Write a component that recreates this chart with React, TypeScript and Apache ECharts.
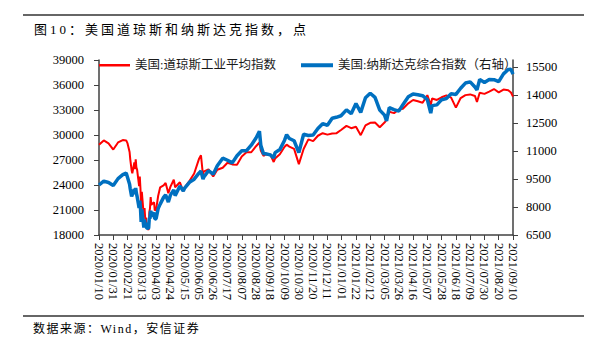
import React, { useEffect, useRef } from "react";
import * as echarts from "echarts";

const dates = [
  "2020/01/10","2020/01/17","2020/01/24","2020/01/31","2020/02/07","2020/02/14","2020/02/19","2020/02/21",
  "2020/02/24","2020/02/25","2020/02/27","2020/02/28","2020/03/02","2020/03/03","2020/03/04","2020/03/05",
  "2020/03/06","2020/03/09","2020/03/10","2020/03/11","2020/03/12","2020/03/13","2020/03/16","2020/03/17",
  "2020/03/18","2020/03/19","2020/03/20","2020/03/23","2020/03/24","2020/03/25","2020/03/26","2020/03/27",
  "2020/03/31","2020/04/01","2020/04/03","2020/04/06","2020/04/09","2020/04/14","2020/04/17","2020/04/21",
  "2020/04/24","2020/04/29","2020/05/01","2020/05/08","2020/05/13","2020/05/15","2020/05/22","2020/05/29",
  "2020/06/05","2020/06/08","2020/06/11","2020/06/12","2020/06/19","2020/06/26","2020/07/02","2020/07/10",
  "2020/07/17","2020/07/24","2020/07/31","2020/08/07","2020/08/14","2020/08/21","2020/08/28","2020/09/02",
  "2020/09/04","2020/09/08","2020/09/11","2020/09/18","2020/09/23","2020/09/25","2020/10/02","2020/10/09",
  "2020/10/12","2020/10/16","2020/10/23","2020/10/30","2020/11/06","2020/11/13","2020/11/20","2020/11/27",
  "2020/12/04","2020/12/11","2020/12/18","2020/12/24","2020/12/31","2021/01/08","2021/01/15","2021/01/22",
  "2021/01/29","2021/02/05","2021/02/12","2021/02/19","2021/02/26","2021/03/05","2021/03/08","2021/03/12",
  "2021/03/19","2021/03/26","2021/04/01","2021/04/09","2021/04/16","2021/04/23","2021/04/30","2021/05/07",
  "2021/05/12","2021/05/14","2021/05/21","2021/05/28","2021/06/04","2021/06/11","2021/06/18","2021/06/25",
  "2021/07/02","2021/07/09","2021/07/16","2021/07/19","2021/07/23","2021/07/30","2021/08/06","2021/08/13",
  "2021/08/20","2021/08/27","2021/09/03","2021/09/07","2021/09/10"
];

const dowValues = [
  28824,29348,28990,28256,29103,29398,29348,28992,
  27961,27081,25766,25409,26703,25917,27091,26121,
  25865,23851,25018,23553,21200,23186,20189,21237,
  19899,20087,19174,18592,20704,21200,22552,21637,
  21917,20943,21053,22680,23719,23949,24242,23018,
  23775,24634,23724,24331,23248,23685,24465,25383,
  27111,27572,25128,25606,25871,25016,25827,26075,
  26672,26470,26428,27433,27931,27930,28654,29100,
  28133,27501,27666,27657,26763,27174,27683,28587,
  28838,28606,28336,26502,28323,29480,29263,29910,
  30218,30046,30179,30200,30606,31098,30814,30997,
  29983,31148,31458,31494,30932,31496,31802,32779,
  32628,33073,33153,33801,34200,34043,33875,34778,
  33587,34382,34208,34529,34756,34480,33290,34434,
  34786,34870,34688,33962,35062,34935,35209,35515,
  35120,35456,35369,35101,34608
];

const nasdaqValues = [
  9179,9389,9315,9151,9520,9731,9817,9577,
  9221,8966,8566,8567,8952,8684,9019,8738,
  8576,7950,8344,7952,7201,7875,6905,7335,
  6990,7151,6880,6861,7418,7385,7798,7502,
  7700,7361,7374,7913,8153,8515,8650,8263,
  8634,8915,8605,9121,8863,9015,9325,9490,
  9814,9924,9493,9589,9946,9757,10208,10617,
  10503,10363,10745,11011,11019,11312,11696,12056,
  11313,10847,10854,10793,10633,10914,11075,11580,
  11876,11672,11548,10912,11895,11830,11855,12206,
  12464,12378,12756,12805,12888,13202,12998,13543,
  13071,13856,14095,13874,13192,12920,12609,13320,
  13215,13139,13480,13900,14052,14016,13962,13752,
  13031,13430,13471,13749,13814,14069,14030,14360,
  14639,14701,14428,14275,14837,14673,14835,14823,
  14714,15130,15363,15374,15115
];

const seriesNames = ["美国:道琼斯工业平均指数", "美国:纳斯达克综合指数（右轴）"];
const startDate = "2020/01/10";
const endDate = "2021/09/10";
const xTickDays = 21;
const leftMin = 18000;
const leftMax = 39000;
const leftInterval = 3000;
const rightMin = 6500;
const rightMax = 15875;
const rightTicks = [6500, 8000, 9500, 11000, 12500, 14000, 15500];
const titleText = "图10：美国道琼斯和纳斯达克指数，点";
const sourceText = "数据来源：Wind，安信证券";

const DAY = 86400000;
function toUTC(s: string) {
  const [y, m, d] = s.split("/").map(Number);
  return Date.UTC(y, m - 1, d);
}
const BASE = toUTC(startDate);
function dayIndex(s: string) {
  return Math.round((toUTC(s) - BASE) / DAY);
}
function pad(n: number) {
  return n < 10 ? "0" + n : "" + n;
}
function fmtDay(i: number) {
  const t = new Date(BASE + i * DAY);
  return `${t.getUTCFullYear()}/${pad(t.getUTCMonth() + 1)}/${pad(t.getUTCDate())}`;
}

const LATIN = "'Liberation Serif', 'Times New Roman', serif";
const CJK = "'Liberation Serif', 'Noto Sans CJK SC', sans-serif";
const AXIS_COLOR = "#404040";

export default function App() {
  const ref = useRef<HTMLDivElement>(null);
  useEffect(() => {
    if (!ref.current) return;
    const chart = echarts.init(ref.current, undefined, { renderer: "svg" });
    const dowData = dates.map((d, i) => [dayIndex(d), dowValues[i]]);
    const nasData = dates.map((d, i) => [dayIndex(d), nasdaqValues[i]]);
    const legendText = { fontSize: 12.5, color: "#1a1a1a", fontFamily: CJK };
    const plain = (v: number) => String(v);
    chart.setOption({
      animation: false,
      backgroundColor: "#fff",
      grid: { left: 99, right: 82, top: 60, bottom: 116, containLabel: false },
      legend: [
        {
          left: 94, top: 54, data: [seriesNames[0]], icon: "rect",
          itemWidth: 31, itemHeight: 2.5, textStyle: legendText, selectedMode: false,
        },
        {
          left: 296, top: 54, data: [seriesNames[1]], icon: "rect",
          itemWidth: 32, itemHeight: 4, textStyle: legendText, selectedMode: false,
        },
      ],
      xAxis: {
        type: "value",
        min: 0,
        max: dayIndex(endDate),
        interval: xTickDays,
        splitLine: { show: false },
        axisLine: { show: true, onZero: false, lineStyle: { color: AXIS_COLOR, width: 1.5 } },
        axisTick: { show: true, length: 5, lineStyle: { color: AXIS_COLOR, width: 1 } },
        axisLabel: {
          rotate: -90, margin: 8, color: "#000", fontSize: 12.5, fontFamily: LATIN,
          formatter: (v: number) => fmtDay(v),
        },
      },
      yAxis: [
        {
          type: "value", min: leftMin, max: leftMax, interval: leftInterval,
          splitLine: { show: false },
          axisLine: { show: true, lineStyle: { color: AXIS_COLOR, width: 1.5 } },
          axisTick: { show: true, length: 5, lineStyle: { color: AXIS_COLOR, width: 1 } },
          axisLabel: { margin: 15, color: "#000", fontSize: 12.5, fontFamily: LATIN, formatter: plain },
        },
        {
          type: "value", min: rightMin, max: rightMax, position: "right",
          splitLine: { show: false },
          axisLine: { show: true, lineStyle: { color: AXIS_COLOR, width: 1.5 } },
          axisTick: { show: true, length: 5, customValues: rightTicks, lineStyle: { color: AXIS_COLOR, width: 1 } },
          axisLabel: { margin: 13, color: "#000", fontSize: 12.5, fontFamily: LATIN, customValues: rightTicks, formatter: plain },
        },
      ],
      series: [
        {
          name: seriesNames[0], type: "line", yAxisIndex: 0, data: dowData,
          showSymbol: false, symbol: "none", color: "#FF0000",
          lineStyle: { color: "#FF0000", width: 2 },
        },
        {
          name: seriesNames[1], type: "line", yAxisIndex: 1, data: nasData,
          showSymbol: false, symbol: "none", color: "#0070C0",
          lineStyle: { color: "#0070C0", width: 3.5 },
        },
      ],
      graphic: [
        { type: "line", shape: { x1: 23, y1: 15, x2: 584, y2: 15 }, style: { stroke: "#333", lineWidth: 1.5 } },
        {
          type: "text", x: 34, y: 29,
          style: { text: titleText, fontSize: 13, fontFamily: "TitleFont, " + CJK, fill: "#000", verticalAlign: "middle" },
        },
        { type: "line", shape: { x1: 23, y1: 316, x2: 584, y2: 316 }, style: { stroke: "#333", lineWidth: 1.5 } },
        {
          type: "text", x: 33, y: 329,
          style: { text: sourceText, fontSize: 12, fontFamily: "SourceFont, " + CJK, fill: "#000", verticalAlign: "middle" },
        },
      ],
    });
    return () => chart.dispose();
  }, []);
  return (
    <>
      <style>{`text[style*="TitleFont"]{letter-spacing:3px}text[style*="SourceFont"]{letter-spacing:1.5px}`}</style>
      <div ref={ref} style={{ position: "fixed", left: 0, top: 0, width: 595, height: 351 }} />
    </>
  );
}
